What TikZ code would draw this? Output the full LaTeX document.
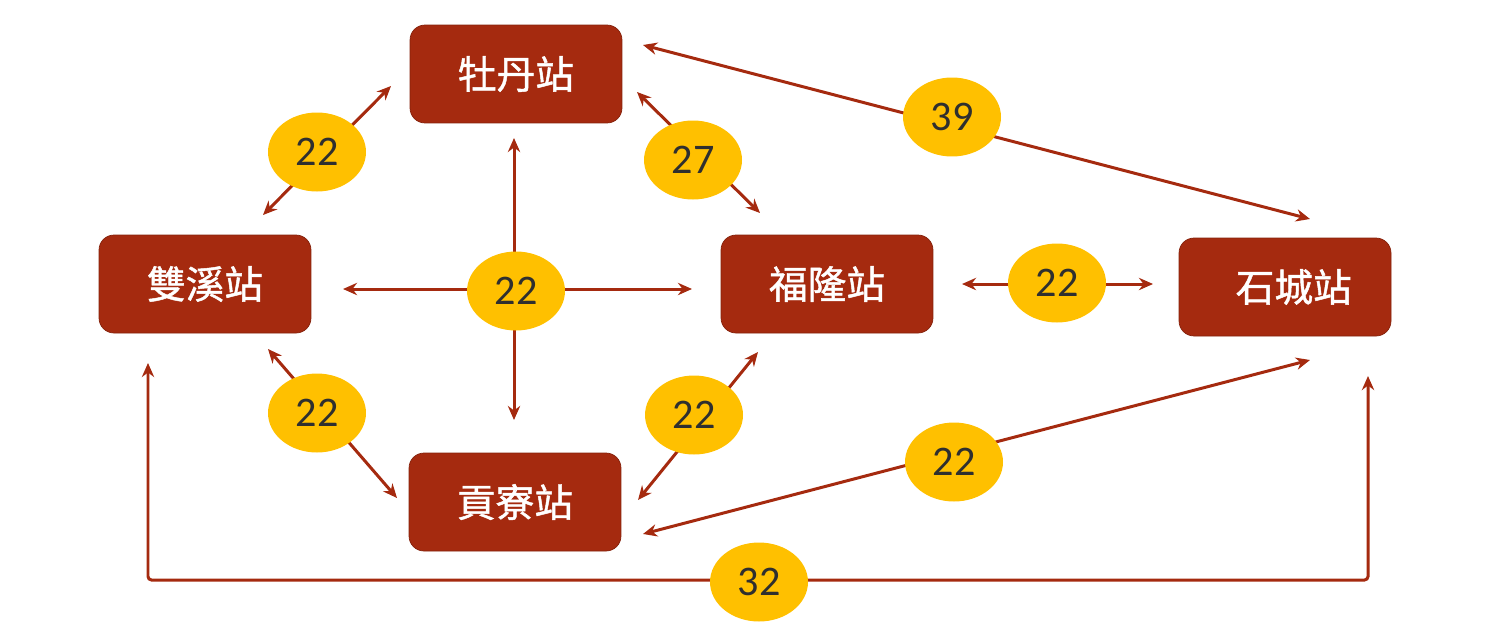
\documentclass[tikz,border=0pt]{standalone}
\usepackage{fontspec}
\setmainfont{Carlito}
\newfontfamily\cjk[FakeBold=1.2]{Noto Sans CJK TC}
\usetikzlibrary{arrows.meta,shapes.geometric}
\definecolor{rust}{HTML}{A52A0F}
\definecolor{gold}{HTML}{FFC000}
\definecolor{ink}{HTML}{2F2F2F}
\tikzset{
  station/.style={rectangle, rounded corners=.3cm, fill=rust, draw=rust!80!black,
    minimum width=4.24cm, minimum height=1.96cm, text=white,
    font=\cjk\fontsize{22}{26}\selectfont},
  fare/.style={ellipse, fill=gold, minimum width=1.96cm, minimum height=1.58cm,
    inner sep=0pt, text=ink, font=\fontsize{24}{28}\selectfont},
  link/.style={draw=rust, line width=1.7pt,
    {Stealth[length=8pt,width=7pt]}-{Stealth[length=8pt,width=7pt]}},
}
\begin{document}
\begin{tikzpicture}[x=.02cm, y=-.02cm]
  \useasboundingbox (0,0) rectangle (1500,633);

  \node[station] (mudan) at (516,74) {牡丹站};
  \node[station] (shuangxi) at (205,284) {雙溪站};
  \node[station] (fulong) at (827,284) {福隆站};
  \node[station] (shicheng) at (1285,287) {\hspace{.35cm}石城站};
  \node[station] (gongliao) at (515,502) {貢寮站};

  % ends of the links
  \coordinate (sx-md) at (263,215);
  \coordinate (md-sx) at (391,86);
  \coordinate (md-fl) at (637,92);
  \coordinate (fl-md) at (760,213);
  \coordinate (md-sc) at (643,45);
  \coordinate (sc-md) at (1310,219);
  \coordinate (sx-fl) at (343,289);
  \coordinate (fl-sx) at (692,289);
  \coordinate (md-gl) at (514,138);
  \coordinate (gl-md) at (514,420);
  \coordinate (fl-sc) at (962,284);
  \coordinate (sc-fl) at (1153,284);
  \coordinate (sx-gl) at (268,349);
  \coordinate (gl-sx) at (397,498);
  \coordinate (fl-gl) at (758,352);
  \coordinate (gl-fl) at (638,500);
  \coordinate (gl-sc) at (643,534);
  \coordinate (sc-gl) at (1310,360);
  \coordinate (sx-sc) at (148,363);
  \coordinate (bend) at (1368,580);
  \coordinate (sc-sx) at (1368,376);

  \draw[link] (sx-md) -- (md-sx);
  \draw[link] (md-fl) -- (fl-md);
  \draw[link] (md-sc) -- (sc-md);
  \draw[link] (sx-fl) -- (fl-sx);
  \draw[link] (md-gl) -- (gl-md);
  \draw[link] (fl-sc) -- (sc-fl);
  \draw[link] (sx-gl) -- (gl-sx);
  \draw[link] (fl-gl) -- (gl-fl);
  \draw[link] (gl-sc) -- (sc-gl);
  \draw[link, rounded corners=2pt] (sx-sc) |- (bend) -- (sc-sx);

  % fares
  \node[fare] (f1) at (317,152) {22};
  \node[fare] (f2) at (693,160) {27};
  \node[fare] (f3) at (952,117) {39};
  \node[fare] (f4) at (516,291) {22};
  \node[fare] (f5) at (1057,283) {22};
  \node[fare] (f6) at (317,413) {22};
  \node[fare] (f7) at (694,415) {22};
  \node[fare] (f8) at (954,462) {22};
  \node[fare] (f9) at (759,582) {32};
\end{tikzpicture}
\end{document}
